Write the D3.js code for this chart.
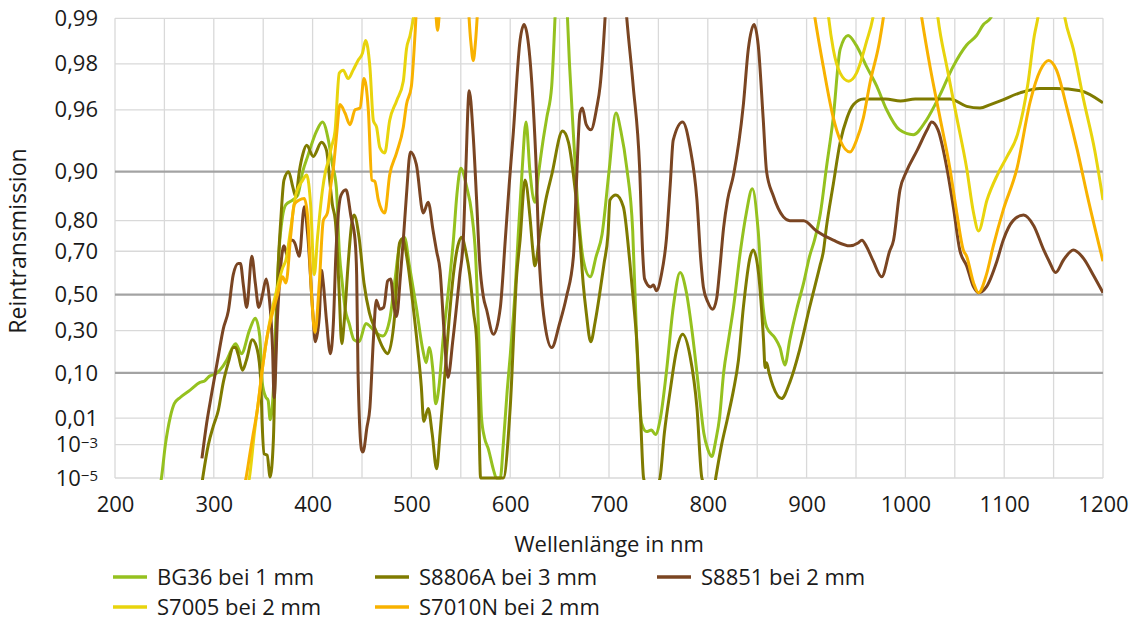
<!doctype html>
<html lang="de">
<head>
<meta charset="utf-8">
<title>Reintransmission</title>
<script src="https://cdn.jsdelivr.net/npm/d3@7"></script>
<style>
  body { margin: 0; background: #fff; }
  svg { display: block; font-family: "Open Sans", sans-serif; }
</style>
</head>
<body>
<svg id="chart" width="1132" height="622"></svg>
<script>
// series, in drawing order (last one on top)
const seriesNames = ["BG36 bei 1 mm", "S8806A bei 3 mm", "S8851 bei 2 mm", "S7005 bei 2 mm", "S7010N bei 2 mm"];
const seriesColors = ["#95c11f", "#7f7b00", "#7a4522", "#e8d40d", "#f8b200"];

// [wavelength nm, transmission]
const bg36 = [[245,1e-6],[247,1e-5],[251,1e-3],[256,0.011],[260,0.025],[266,0.035],[276,0.05],[286,0.07],[291,0.075],[296,0.09],
  [301,0.095],[306,0.11],[313,0.15],[319,0.21],[322,0.23],[328,0.18],[336,0.30],[342,0.37],[346.5,0.27],[349,0.07],[352.5,0.036],
  [355,0.03],[357,0.009],[360,0.04],[363,0.38],[366,0.7],[369.5,0.81],[373,0.84],[380,0.85],[385,0.86],[390,0.90],[395,0.92],
  [404,0.945],[410,0.952],[416,0.937],[420,0.91],[424,0.875],[427,0.70],[430,0.56],[433,0.42],[437,0.34],[442,0.25],[447,0.24],
  [454,0.34],[459,0.32],[464,0.29],[471,0.27],[478,0.36],[483,0.56],[488,0.72],[493,0.75],[498,0.64],[505,0.43],[511.5,0.2],
  [515,0.14],[518,0.21],[522,0.10],[524.5,0.025],[528,0.06],[532,0.25],[537,0.5],[542.5,0.74],[546,0.86],[550,0.905],[556,0.875],
  [561,0.82],[565,0.68],[568,0.3],[571,0.01],[574,0.002],[578,6e-4],[583,4e-5],[586,1e-5],[590,1e-5],[593,1e-3],[597,0.05],
  [600,0.17],[605,0.52],[608,0.75],[612,0.9],[616,0.952],[620,0.9],[625,0.845],[628.5,0.895],[633,0.935],[637,0.955],[642,0.972],
  [646,0.992],[652,0.999],[656,0.995],[660,0.98],[664,0.942],[669,0.82],[674,0.665],[681,0.59],[687,0.68],[693,0.76],[700,0.9],
  [707,0.958],[712,0.945],[718,0.905],[724,0.77],[728,0.25],[733,0.007],[738,0.0035],[743,0.004],[747,0.0027],[752,0.01],
  [758,0.10],[765,0.43],[772,0.61],[778,0.52],[784,0.3],[789,0.10],[792,0.03],[796,0.003],[800,6e-4],[804,2.5e-4],[808,0.0015],
  [812,0.011],[816,0.10],[821,0.25],[826,0.43],[833,0.70],[839,0.82],[845,0.872],[851,0.77],[856,0.43],[859.5,0.32],[868,0.26],
  [873,0.21],[878,0.13],[883,0.25],[890,0.42],[897,0.56],[903,0.68],[908,0.74],[914,0.82],[920,0.905],[927,0.955],[934,0.984],
  [942,0.987],[950,0.985],[961,0.979],[971,0.972],[981,0.96],[994,0.946],[1008,0.942],[1021,0.953],[1035,0.968],[1048,0.979],
  [1062,0.985],[1072,0.987],[1079,0.989],[1086,0.99],[1095,0.993],[1105,0.996]];

const s8806a = [[287,1e-6],[289,1.3e-5],[294.5,1e-3],[299.5,0.0055],[304.6,0.017],[309.6,0.07],[314.7,0.14],[319.7,0.21],[322,0.21],
  [324.8,0.175],[329,0.11],[333,0.15],[339,0.25],[344,0.2],[347.6,0.07],[349,0.006],[351,3.5e-4],[354,3e-4],[357,1.2e-5],
  [360.3,0.0016],[362,0.1],[364.5,0.56],[368,0.81],[371,0.887],[375.7,0.90],[380,0.875],[383,0.857],[386.5,0.9],[390,0.922],
  [394,0.932],[400.7,0.92],[409,0.935],[414,0.927],[418,0.875],[420,0.84],[423,0.80],[425,0.70],[427,0.5],[429.5,0.23],[432,0.35],
  [436,0.65],[440,0.8],[442,0.815],[447,0.75],[452,0.56],[457.5,0.40],[464,0.30],[471,0.21],[476,0.18],[483,0.38],[488,0.73],
  [491,0.745],[496,0.66],[501,0.47],[506.5,0.2],[510,0.06],[512.5,0.008],[517,0.019],[521,0.003],[525.5,4.5e-5],[529,0.003],
  [534,0.10],[538,0.35],[542.5,0.6],[547,0.72],[551,0.75],[555,0.7],[559,0.6],[563,0.4],[566,0.25],[568,0.03],[570,1e-5],
  [593,1e-5],[600,0.02],[606.6,0.6],[610,0.74],[615,0.887],[620,0.81],[623,0.7],[625,0.64],[630,0.76],[636,0.85],[642,0.895],
  [653,0.945],[659,0.935],[664,0.895],[670.6,0.74],[674,0.55],[677,0.4],[681.5,0.24],[686,0.35],[691,0.52],[695,0.65],[699,0.76],
  [701,0.85],[707,0.86],[714.5,0.835],[721,0.66],[725,0.45],[728,0.25],[732,0.01],[735,1e-5],[740,1e-6],[746,1e-6],[751.6,1e-5],
  [756,0.003],[762,0.05],[768.5,0.2],[774.5,0.28],[782,0.17],[789,0.02],[794,1e-5],[800,1e-6],[806,1e-6],[808,1e-5],[814,0.001],
  [820,0.01],[826,0.05],[831,0.15],[836,0.43],[843,0.68],[846,0.705],[851.5,0.6],[856.4,0.25],[858,0.12],[859.5,0.14],[862,0.1],
  [866,0.06],[874.6,0.033],[883,0.07],[893,0.2],[903,0.43],[913.5,0.64],[917,0.7],[920,0.78],[927,0.88],[934,0.935],[941,0.955],
  [947.5,0.963],[957.5,0.966],[967.5,0.966],[980,0.966],[995,0.965],[1010,0.966],[1028,0.966],[1045,0.966],[1062,0.962],
  [1075.5,0.961],[1086,0.963],[1096,0.965],[1116,0.969],[1136,0.971],[1153,0.971],[1177,0.970],[1200,0.964]];

const s8851 = [[288,2e-4],[292.8,0.007],[297.8,0.042],[304.6,0.17],[309.6,0.31],[314.7,0.41],[319.7,0.6],[324.8,0.65],[327,0.65],
  [329.9,0.55],[333.3,0.43],[338.5,0.68],[342,0.56],[345.5,0.43],[349.3,0.5],[353,0.58],[356,0.49],[359.5,0.2],[361,0.035],
  [364.5,0.38],[368,0.65],[371,0.72],[374.7,0.68],[377,0.74],[380,0.74],[382,0.73],[386.5,0.68],[391.6,0.835],[395,0.76],[400,0.42],
  [402.7,0.24],[406.8,0.38],[409,0.62],[410.8,0.56],[414,0.36],[418,0.18],[421,0.34],[423.7,0.70],[428.8,0.86],[433.8,0.87],
  [438.9,0.81],[443,0.74],[444.6,0.6],[446,0.1],[449.6,5.6e-4],[451,4.4e-4],[455,0.005],[458,0.02],[461.5,0.25],[464.5,0.47],
  [468,0.42],[472,0.43],[476,0.57],[479,0.58],[482,0.45],[485,0.38],[489,0.6],[492,0.75],[495,0.86],[499,0.925],[505,0.91],
  [512,0.82],[517,0.845],[522,0.77],[525.5,0.70],[529,0.62],[533,0.3],[537,0.085],[542,0.25],[549,0.6],[552.5,0.74],[555,0.9],
  [558.5,0.97],[562.5,0.942],[566,0.85],[569,0.66],[572.8,0.49],[576,0.42],[583,0.28],[590,0.43],[595,0.74],[599,0.88],[603,0.942],
  [610,0.986],[614,0.989],[618,0.986],[623,0.965],[626.6,0.895],[629,0.7],[631,0.55],[635,0.34],[642,0.21],[650,0.34],[657,0.49],
  [664,0.68],[667,0.88],[670.6,0.958],[673,0.961],[677,0.95],[681.7,0.946],[687.5,0.961],[691,0.972],[696,0.99],[700,0.997],
  [710,0.998],[718,0.99],[724.5,0.972],[731,0.905],[734,0.7],[736,0.58],[742,0.54],[745,0.55],[748,0.52],[753,0.6],[758,0.74],
  [762,0.88],[765,0.937],[774.5,0.952],[782,0.93],[789,0.85],[793,0.66],[795.5,0.54],[800,0.46],[805,0.42],[809,0.48],[812,0.62],
  [816,0.78],[820,0.85],[826,0.895],[836,0.963],[841,0.984],[846.8,0.989],[851,0.985],[856,0.955],[859.5,0.90],[866,0.86],
  [876.5,0.81],[883,0.80],[893,0.80],[897,0.80],[910,0.77],[927,0.74],[944,0.72],[952,0.73],[956,0.74],[961,0.715],[967.5,0.66],
  [976,0.59],[984,0.70],[988,0.74],[994.5,0.87],[1001,0.90],[1012,0.927],[1022,0.946],[1026.6,0.952],[1033,0.946],[1042,0.905],
  [1048.5,0.835],[1055,0.705],[1062,0.64],[1069,0.54],[1074,0.51],[1082,0.54],[1092.6,0.66],[1099,0.74],[1109,0.80],[1119.6,0.815],
  [1130,0.785],[1140,0.705],[1145.5,0.66],[1152,0.61],[1160,0.665],[1170,0.705],[1180.6,0.67],[1190,0.6],[1200,0.51]];

const s7005 = [[333,1e-6],[336,1e-5],[341,0.003],[346,0.04],[350,0.14],[355,0.3],[360,0.44],[365,0.55],[369.6,0.63],[373,0.665],
  [378,0.78],[383,0.86],[390,0.887],[394,0.895],[398,0.84],[401.7,0.6],[405,0.75],[410,0.87],[413,0.90],[416,0.915],[419,0.93],
  [422.7,0.945],[427,0.977],[431,0.978],[436,0.975],[441,0.978],[446,0.981],[450.5,0.983],[453.6,0.986],[458,0.979],[461.5,0.953],
  [464.8,0.948],[468,0.93],[473,0.924],[478,0.953],[485,0.965],[491.8,0.974],[495,0.984],[498.6,0.987],[502,0.99],[508,0.995],
  [520,0.999],[900,0.999],[918,0.995],[922.4,0.99],[927,0.984],[934,0.977],[942.6,0.974],[950.5,0.977],[961,0.986],[967,0.99],
  [975,0.996],[1020,0.997],[1028,0.995],[1033,0.99],[1042,0.979],[1052,0.955],[1062,0.905],[1069,0.82],[1074,0.77],[1082.6,0.85],
  [1093,0.895],[1103,0.92],[1113.4,0.942],[1124,0.973],[1130.5,0.987],[1134,0.99],[1140,0.995],[1155,0.995],[1161.5,0.99],
  [1170,0.984],[1180.6,0.965],[1191.6,0.927],[1200,0.85]];

const s7010n = [[330,1e-6],[332.6,1e-5],[337,5e-4],[340,0.003],[344,0.017],[349.3,0.12],[354,0.27],[359.5,0.40],[364.5,0.5],
  [369.6,0.59],[373,0.56],[378,0.76],[381.4,0.84],[386.5,0.85],[391.6,0.853],[395,0.81],[398.3,0.56],[402.4,0.29],[406.8,0.56],
  [410.8,0.80],[415,0.82],[418.6,0.88],[421,0.905],[424.3,0.942],[427.7,0.963],[432.8,0.958],[437.9,0.95],[443,0.96],[448,0.961],
  [452,0.975],[456.4,0.96],[460,0.887],[463,0.885],[466.5,0.85],[470,0.827],[473,0.82],[478,0.895],[485,0.924],[491.8,0.948],
  [495,0.963],[500,0.972],[503.6,0.987],[506,0.993],[515,0.996],[524,0.992],[526.5,0.988],[529,0.992],[540,0.997],[555,0.995],
  [560,0.986],[562.6,0.981],[565,0.986],[568,0.993],[580,0.998],[890,0.998],[905,0.993],[908.5,0.99],[917,0.979],[927,0.955],
  [934,0.937],[944,0.925],[950.5,0.937],[957.5,0.955],[964,0.973],[974,0.986],[977.6,0.99],[983,0.995],[1005,0.996],[1013,0.993],
  [1016.6,0.99],[1025,0.979],[1035,0.955],[1045,0.905],[1052,0.82],[1058.6,0.705],[1062,0.68],[1069,0.56],[1074,0.51],[1082,0.6],
  [1089,0.72],[1099,0.827],[1113,0.905],[1126.5,0.965],[1136.6,0.978],[1145,0.981],[1153,0.978],[1163.5,0.961],[1174,0.927],
  [1184,0.86],[1200,0.66]];

const seriesData = [bg36, s8806a, s8851, s7005, s7010n];

// axis values
const xGridValues = d3.range(200, 1201, 50);
const xTickValues = d3.range(200, 1201, 100);
const yTickValues = [0.99, 0.98, 0.96, 0.90, 0.80, 0.70, 0.50, 0.30, 0.10, 0.01, 1e-3, 1e-5];
const yTickLabels = ["0,99", "0,98", "0,96", "0,90", "0,80", "0,70", "0,50", "0,30", "0,10", "0,01", "10^−3", "10^−5"];
const yMajorValues = [0.90, 0.50, 0.10];

const svg = d3.select("#chart");
const plot = {left: 115, right: 1103, top: 18.3, bottom: 478};

// double-log transmission axis: ln(-ln T)
const tf = t => Math.log(-Math.log(t));
const x = d3.scaleLinear().domain([200, 1200]).range([plot.left, plot.right]);
const yLin = d3.scaleLinear().domain([tf(0.99), tf(1e-5)]).range([plot.top, plot.bottom]);
const y = t => yLin(tf(t));

// grid
const grid = svg.append("g");
grid.selectAll("line.v")
  .data(xGridValues)
  .join("line")
  .attr("x1", d => x(d)).attr("x2", d => x(d))
  .attr("y1", plot.top).attr("y2", plot.bottom)
  .attr("stroke", "#d9d9d9").attr("stroke-width", 1.3);
grid.selectAll("line.h")
  .data(yTickValues.filter(v => !yMajorValues.includes(v)))
  .join("line")
  .attr("x1", plot.left).attr("x2", plot.right)
  .attr("y1", d => y(d)).attr("y2", d => y(d))
  .attr("stroke", "#d9d9d9").attr("stroke-width", 1.3);
svg.append("g").selectAll("line")
  .data(yMajorValues)
  .join("line")
  .attr("x1", plot.left).attr("x2", plot.right)
  .attr("y1", d => y(d)).attr("y2", d => y(d))
  .attr("stroke", "#a3a3a3").attr("stroke-width", 2.2);

// curves
svg.append("defs").append("clipPath").attr("id", "clip")
  .append("rect")
  .attr("x", plot.left).attr("y", plot.top - 1)
  .attr("width", plot.right - plot.left).attr("height", plot.bottom - plot.top + 3);

const line = d3.line()
  .x(d => x(d[0]))
  .y(d => y(d[1]))
  .curve(d3.curveMonotoneX);

svg.append("g")
  .attr("clip-path", "url(#clip)")
  .selectAll("path")
  .data(seriesData)
  .join("path")
  .attr("fill", "none")
  .attr("stroke", (d, i) => seriesColors[i])
  .attr("stroke-width", 3)
  .attr("stroke-linejoin", "round")
  .attr("d", line);

// axes
const xAxis = svg.append("g")
  .attr("transform", `translate(0,${plot.bottom})`)
  .call(d3.axisBottom(x).tickValues(xTickValues).tickSize(0).tickPadding(18.5).tickFormat(d3.format("d")));
xAxis.select(".domain").remove();
xAxis.selectAll("text").attr("font-size", 22).attr("font-family", "Open Sans").attr("fill", "#1a1a1a");

const yAxis = svg.append("g")
  .attr("transform", `translate(${plot.left},0)`)
  .call(d3.axisLeft(yLin).tickValues(yTickValues.map(tf)).tickSize(0).tickPadding(17)
    .tickFormat((d, i) => yTickLabels[i]));
yAxis.select(".domain").remove();
yAxis.selectAll("text")
  .attr("font-size", 22).attr("font-family", "Open Sans").attr("fill", "#1a1a1a")
  .each(function(d, i) {
    const lab = yTickLabels[i];
    if (lab.includes("^")) {
      const [base, sup] = lab.split("^");
      const t = d3.select(this).text(null);
      t.append("tspan").text(base);
      t.append("tspan").attr("font-size", 15).attr("dy", "-0.3em").text(sup);
    }
  });

// axis titles
svg.append("text")
  .attr("x", (plot.left + plot.right) / 2).attr("y", 552)
  .attr("text-anchor", "middle")
  .attr("font-size", 22).attr("fill", "#1a1a1a")
  .text("Wellenlänge in nm");

svg.append("text")
  .attr("transform", "translate(26,241) rotate(-90)")
  .attr("text-anchor", "middle")
  .attr("font-size", 23).attr("fill", "#1a1a1a")
  .text("Reintransmission");

// legend
const legendCols = [113, 375, 657];
const legendRows = [577, 607];
const legend = svg.append("g")
  .selectAll("g")
  .data(seriesNames)
  .join("g")
  .attr("transform", (d, i) => `translate(${legendCols[i % 3]},${legendRows[Math.floor(i / 3)]})`);
legend.append("line")
  .attr("x1", 0).attr("x2", 34)
  .attr("stroke", (d, i) => seriesColors[i])
  .attr("stroke-width", 3.5);
legend.append("text")
  .attr("x", 44).attr("dy", "0.35em")
  .attr("font-size", 22).attr("fill", "#1a1a1a")
  .text(d => d);
</script>
</body>
</html>
